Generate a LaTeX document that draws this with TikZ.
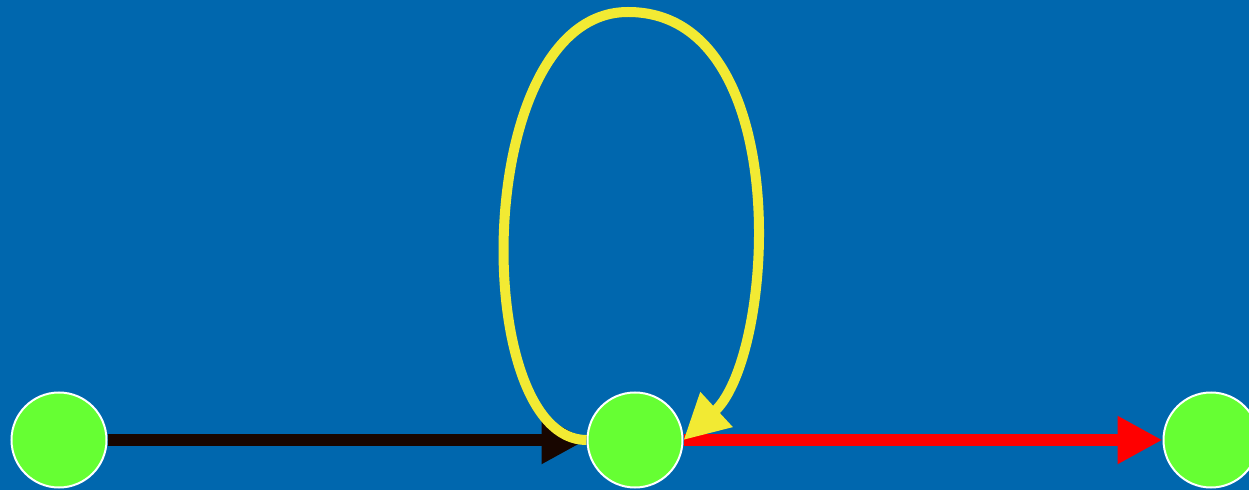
\documentclass[tikz,border=0pt]{standalone}
\usetikzlibrary{arrows.meta}
\definecolor{bgblue}{RGB}{0,103,174}
\definecolor{dotgreen}{RGB}{102,255,51}
\definecolor{edgebrown}{RGB}{24,6,0}
\definecolor{loopyellow}{RGB}{242,234,51}
\begin{document}
\begin{tikzpicture}[
  x=1pt, y=1pt,
  dot/.style={circle, draw=white, line width=2pt, fill=dotgreen, minimum size=95pt, inner sep=0pt},
  arr/.style={-{Triangle[length=45pt, width=45pt]}, line width=12pt}
]
\fill[bgblue] (0,0) rectangle (1249,490);
\useasboundingbox (0,0) rectangle (1249,490);
\node[dot] (a) at (59,50) {};
\node[dot] (b) at (635,50) {};
\node[dot] (c) at (1211,50) {};
\coordinate (looptop) at (628,478);
\draw[arr, edgebrown] (a) -- (b);
\draw[arr, red] (b) -- (c);
\draw[arr, loopyellow, line width=10pt] (b.west) .. controls +(-117,0) and +(-158,0) .. (looptop)
  .. controls +(168,0) and +(92,85) .. (b.east);
\end{tikzpicture}
\end{document}
